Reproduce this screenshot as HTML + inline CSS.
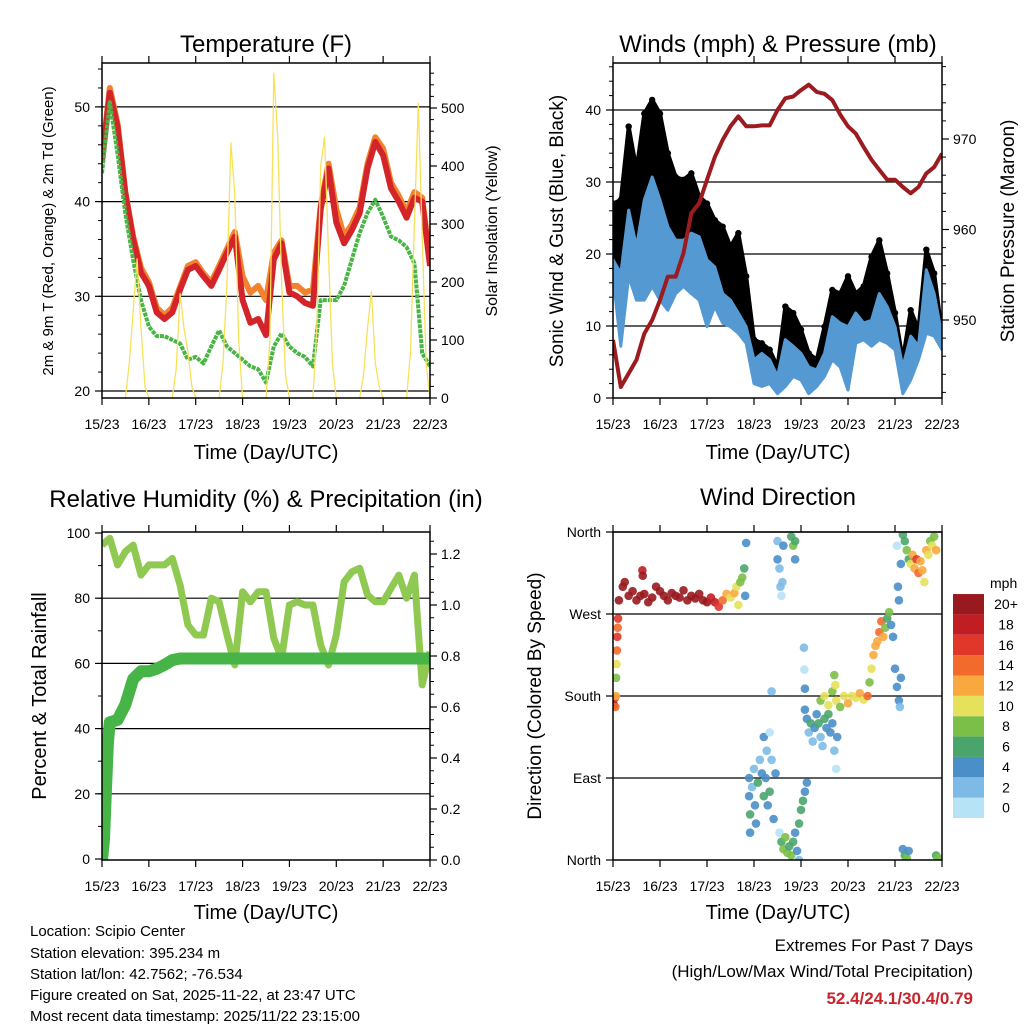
<!DOCTYPE html>
<html><head><meta charset="utf-8"><style>
html,body{margin:0;padding:0;background:#fff;}
svg{display:block;font-family:"Liberation Sans",Arial,sans-serif;}
</style></head><body>
<svg id="chart" width="1024" height="1024" viewBox="0 0 1024 1024" xmlns="http://www.w3.org/2000/svg">
<rect x="0" y="0" width="1024" height="1024" fill="#fff"/>
<text x="266" y="52" font-size="24" text-anchor="middle">Temperature (F)</text>
<text x="778" y="52" font-size="24" text-anchor="middle">Winds (mph) &amp; Pressure (mb)</text>
<text x="266" y="507" font-size="24" text-anchor="middle">Relative Humidity (%) &amp; Precipitation (in)</text>
<text x="778" y="505" font-size="24" text-anchor="middle">Wind Direction</text>
<text x="266" y="459" font-size="20" text-anchor="middle">Time (Day/UTC)</text>
<text x="778" y="459" font-size="20" text-anchor="middle">Time (Day/UTC)</text>
<text x="266" y="919" font-size="20" text-anchor="middle">Time (Day/UTC)</text>
<text x="778" y="919" font-size="20" text-anchor="middle">Time (Day/UTC)</text>
<text transform="translate(53,231) rotate(-90)" font-size="15" text-anchor="middle">2m &amp; 9m T (Red, Orange) &amp; 2m Td (Green)</text>
<text transform="translate(497,231) rotate(-90)" font-size="16" text-anchor="middle">Solar Insolation (Yellow)</text>
<text transform="translate(563,231) rotate(-90)" font-size="19" text-anchor="middle">Sonic Wind &amp; Gust (Blue, Black)</text>
<text transform="translate(1014,231) rotate(-90)" font-size="19" text-anchor="middle">Station Pressure (Maroon)</text>
<text transform="translate(46,696) rotate(-90)" font-size="20" text-anchor="middle">Percent &amp; Total Rainfall</text>
<text transform="translate(541,696) rotate(-90)" font-size="19" text-anchor="middle">Direction (Colored By Speed)</text>
<g font-size="15">
<text x="30" y="936">Location: Scipio Center</text>
<text x="30" y="958">Station elevation: 395.234 m</text>
<text x="30" y="979">Station lat/lon: 42.7562; -76.534</text>
<text x="30" y="1000">Figure created on Sat, 2025-11-22, at 23:47 UTC</text>
<text x="30" y="1021">Most recent data timestamp: 2025/11/22 23:15:00</text>
</g>
<text x="973" y="951" font-size="17" text-anchor="end">Extremes For Past 7 Days</text>
<text x="973" y="977" font-size="17" text-anchor="end">(High/Low/Max Wind/Total Precipitation)</text>
<text x="973" y="1004" font-size="17" font-weight="bold" fill="#c8242b" text-anchor="end">52.4/24.1/30.4/0.79</text>
</svg>
<script>
const dayTicks = [0,24,48,72,96,120,144,168];
const dayLabels = ["15/23","16/23","17/23","18/23","19/23","20/23","21/23","22/23"];
const hours = [0,4,8,12,16,20,24,28,32,36,40,44,48,52,56,60,64,68,72,76,80,84,88,92,96,100,104,108,112,116,120,124,128,132,136,140,144,148,152,156,160,164,168];
const tempRed = [44.4,51.5,47.9,40.8,36,32.5,31.1,28.3,27.6,28.3,30.7,32.8,33.2,32.1,31.1,32.8,34.6,36.3,29.6,27.2,27.6,25.9,33.9,35.6,30.4,30.0,29.3,29.0,39.2,43.5,37.8,35.6,37.0,38.8,43.5,46.3,44.9,41.4,40.0,38.3,40.4,40.0,33.2];
const tempOrange = [44.6,52.0,48.2,41.0,36.3,33.0,31.5,28.8,28.0,28.8,31.0,33.2,33.6,32.4,31.5,33.2,35.0,36.8,32.1,30.4,31.1,29.6,34.6,35.9,31.1,31.1,30.4,30.7,39.6,44.0,39.2,36.3,37.6,39.4,44.0,46.8,45.6,42.0,40.6,38.9,41.0,40.4,33.6];
const dewGreen = [43,50.5,45,38.7,33.8,29.6,26.8,25.8,25.8,25.4,25,23.3,23.6,22.9,24.7,26.4,24.7,24,23.3,22.6,22.3,20.9,24.7,26.1,24.7,24,23.6,22.6,29.6,29.6,29.6,31.1,33.9,36.7,38.8,40.2,38.4,36.3,35.9,35.2,33.5,24,22.6];
const solarHours = [0,12,14,16,18,20,22,24,36,38,40,42,44,46,48,60,62,64,66,68,70,72,84,86,88,90,92,94,96,108,110,112,114,116,118,120,132,134,136,138,140,142,144,156,158,160,162,164,166,168];
const solarValues = [0,0,60,150,240,120,20,0,0,50,180,120,80,20,0,0,60,200,440,350,100,0,0,100,560,450,200,40,0,0,120,400,450,250,60,0,0,40,120,183,60,20,0,0,80,300,508,280,60,0];
const gustMax = [27.0,27.5,37.7,31.7,39.5,41.4,39.5,34.0,30.7,30.3,31.2,28.0,27.0,24.7,23.8,21.0,22.9,16.9,8.1,7.6,6.7,4.3,12.7,11.8,9.5,6.2,5.3,9.9,15.0,14.5,16.9,14.5,15.5,19.6,21.9,17.3,11.8,5.3,12.2,9.5,20.6,17.3,9.0];
const windMax = [19.2,17.3,26.1,21.0,27.5,30.7,27.5,23.8,21.9,21.9,22.9,22.4,19.2,18.2,14.5,13.6,11.8,9.9,5.3,6.2,5.3,3.0,8.1,7.2,6.2,4.3,3.9,6.2,11.3,10.4,9.9,11.8,10.4,10.8,14.5,12.7,9.9,4.3,8.6,7.2,17.8,14.5,8.6];
const windMin = [16.9,7.2,16.9,13.6,13.6,15.5,13.6,12.2,14.5,15.5,14.5,13.6,9.9,12.7,10.4,9.9,9.0,7.6,2.0,1.6,2.0,0.6,1.6,3.0,2.5,0.6,1.6,3.0,5.3,4.3,1.1,7.6,8.1,7.2,8.1,7.6,6.7,0.6,2.5,5.3,9.0,8.6,6.7];
const pressure = [947.8,942.6,944.1,945.6,948.5,950.0,952.2,954.8,954.8,957.4,961.8,962.9,965.5,968.0,969.9,971.4,972.5,971.4,971.4,971.5,971.5,973.2,974.5,974.7,975.4,976.0,975.2,975.0,974.3,972.7,971.4,970.6,969.1,967.7,966.6,965.5,965.5,964.7,964.0,964.7,966.2,966.9,968.4];
const rhValues = [96.3,98.4,90.2,94.3,96.3,87.1,90.2,90.2,90.2,92.2,84,71.8,68.7,68.7,80,78.9,68.7,59.5,82,78.9,82,82,67.7,61.6,77.9,78.9,77.9,77.9,65.6,59.5,68.7,85,88.1,89.2,81,78.9,78.9,83,87.1,80,87.1,53.4,63.6];
const precipHours = [0,1,2,3,4,8,12,16,20,24,28,32,36,40,168];
const precipValues = [0,0.08,0.27,0.46,0.54,0.55,0.61,0.71,0.74,0.74,0.75,0.765,0.784,0.79,0.79];
const dirHours = [0,0.5,1,1.2,1.5,1.6,1.8,2.0,2.2,2.4,2.6,3,5,6,8,10,12,14,15,15.2,16,18,20,22,24,26,28,30,32,34,36,38,40,42,44,46,48,50,52,54,56,58,60,62,63,64,65,66,67,67.5,68,69.5,69.5,70,70,71,72,72.5,73,74,75,76,77,77,78,78.5,79,80,80,81,81,82,83,84,84,85,85.5,86,86.5,87,91,92,93,93,85,86,87,88,89,90,91,92,93,94,95,95,96,97,98,99,97.5,97.7,98,98,99,100,101,102,103,104,105,106,107,108,109,110,111,112,113,114,114.5,106,108,110,112,114,116,118,120,122,124,126,128,130,131,113,113.5,132,133,134,135,136,137,138,139,140,141,142,143,144,145,146,146.5,147,145.5,146,147,145,148,149,150,151,152,153,154,155,156,157,158,159,160,161,162,163,164,165,148,149,150,151,165,166];
const dirValues = [175,170,178,168,180,200,215,230,245,255,265,285,300,305,290,295,285,290,318,312,292,283,288,300,295,290,285,293,290,288,296,285,290,287,292,285,283,288,283,278,285,292,288,293,300,280,305,310,320,290,348,90,70,50,30,80,100,60,40,85,110,95,70,135,90,120,60,75,140,110,185,45,95,350,330,320,300,290,305,345,355,345,350,330,30,20,12,25,8,15,5,20,30,10,0,40,55,65,75,85,233,209,188,165,155,140,150,130,145,160,150,135,125,155,145,160,140,150,120,100,135,175,180,170,185,175,168,180,172,180,178,183,176,180,195,203,192,210,225,235,240,250,262,245,255,265,272,258,245,210,190,175,168,200,300,285,325,345,357,350,340,330,325,335,320,330,315,328,318,305,340,335,350,345,355,340,12,5,2,10,5,2];
const dirSpeeds = [18,20,16,14,12,8,10,14,16,14,16,20,20,20,20,20,20,20,18,20,20,20,20,20,20,20,20,20,20,20,20,20,20,20,20,20,20,18,18,16,14,12,10,12,10,11,8,8,6,4,4,4,4,6,4,2,2,4,4,6,2,4,6,4,4,2,4,6,1,2,2,4,4,2,4,2,2,1,2,4,6,8,6,4,0,6,8,8,8,6,8,6,4,4,2,6,6,6,4,4,2,0,4,4,4,2,6,2,4,4,6,2,2,6,4,6,4,4,2,1,4,8,10,10,8,10,8,10,12,10,10,12,10,14,8,8,10,10,12,12,12,14,14,12,8,6,8,4,4,4,4,4,2,4,4,4,4,1,6,6,8,6,10,12,12,16,14,12,12,10,12,10,8,10,8,12,4,6,8,4,6,8];
const speedColors = ["#b7e3f7","#7dbbe6","#4a8fc8","#4aa56d","#7cbf48","#e6e15a","#f9a83f","#f26a2c","#e1372b","#c11e24","#981a1e"];
const speedLabels = ["0","2","4","6","8","10","12","14","16","18","20+"];

const NS = "http://www.w3.org/2000/svg";
const svg = document.getElementById("chart");
function mk(parent, tag, attrs, name, inter) {
  const el = document.createElementNS(NS, tag);
  for (const k in attrs) el.setAttribute(k, attrs[k]);
  
  
  parent.appendChild(el);
  return el;
}
const P1 = {x0:102,x1:430,y0:63,y1:398,id:"temp"};
const P2 = {x0:613,x1:942,y0:63,y1:398,id:"wind"};
const P3 = {x0:102,x1:430,y0:532,y1:860,id:"rh"};
const P4 = {x0:613,x1:942,y0:532,y1:860,id:"dir"};
function X(p,h){return p.x0 + h/168*(p.x1-p.x0);}
const yTemp = v => 391 - (v-20)*9.47;
const ySolar = v => 398 - v*0.58;
const yWind = v => 398 - v*7.2;
const yPres = v => 139 - (v-970)*9.05;
const yRH = v => 859 - v*3.26;
const yPrecip = v => 860 - v*255;
const yDir = v => 860 - v*328/360;

const defs = mk(svg,'defs',{},'clip-defs',false);
[P1,P2,P3,P4].forEach(p=>{
  const cp = mk(defs,'clipPath',{id:'clip-'+p.id},'clip-'+p.id,false);
  mk(cp,'rect',{x:p.x0,y:p.y0,width:p.x1-p.x0,height:p.y1-p.y0},'clip-rect',false);
});

function frame(p){
  const g = mk(svg,'g',{},p.id+'-axes',false);
  dayTicks.forEach((h,i)=>{
    const x = X(p,h);
    mk(g,'line',{x1:x,x2:x,y1:p.y1,y2:p.y1+7,stroke:'#000','stroke-width':1.2},'x-tick',false);
    mk(g,'line',{x1:x,x2:x,y1:p.y0,y2:p.y0-7,stroke:'#000','stroke-width':1.2},'x-tick-top',false);
    const t = mk(g,'text',{x:x,y:p.y1+31,'font-size':14,'text-anchor':'middle'},'x-tick-label',false);
    t.textContent = dayLabels[i];
  });
  return g;
}
function leftTicks(p,vals,labels,yf,minor){
  const g = mk(svg,'g',{},p.id+'-left-axis',false);
  minor.forEach(v=>{const y=yf(v); if(y>=p.y0-0.5&&y<=p.y1+0.5) mk(g,'line',{x1:p.x0-4,x2:p.x0,y1:y,y2:y,stroke:'#000','stroke-width':1},'minor-tick',false);});
  vals.forEach((v,i)=>{
    const y = yf(v);
    mk(g,'line',{x1:p.x0-7,x2:p.x0,y1:y,y2:y,stroke:'#000','stroke-width':1.2},'y-tick',false);
    const t = mk(g,'text',{x:p.x0-12,y:y+5,'font-size':14,'text-anchor':'end'},'y-tick-label',false);
    t.textContent = labels[i];
  });
}
function rightTicks(p,vals,labels,yf,minor){
  const g = mk(svg,'g',{},p.id+'-right-axis',false);
  minor.forEach(v=>{const y=yf(v); if(y>=p.y0-0.5&&y<=p.y1+0.5) mk(g,'line',{x1:p.x1,x2:p.x1+4,y1:y,y2:y,stroke:'#000','stroke-width':1},'minor-tick',false);});
  vals.forEach((v,i)=>{
    const y = yf(v);
    mk(g,'line',{x1:p.x1,x2:p.x1+7,y1:y,y2:y,stroke:'#000','stroke-width':1.2},'y2-tick',false);
    const t = mk(g,'text',{x:p.x1+11,y:y+5,'font-size':14},'y2-tick-label',false);
    t.textContent = labels[i];
  });
}
function grid(p,vals,yf){
  const g = mk(svg,'g',{},p.id+'-gridlines',false);
  vals.forEach(v=>{const y=yf(v); mk(g,'line',{x1:p.x0,x2:p.x1,y1:y,y2:y,stroke:'#000','stroke-width':1.2},'gridline',false);});
}
function border(p){
  mk(svg,'rect',{x:p.x0,y:p.y0,width:p.x1-p.x0,height:p.y1-p.y0,fill:'none',stroke:'#000','stroke-width':1.5},p.id+'-plot-border',false);
}
function pts(p,hs,vs,yf){return hs.map((h,i)=>X(p,h).toFixed(1)+','+yf(vs[i]).toFixed(1)).join(' ');}
function range(a,b,s){const r=[];for(let v=a;v<=b+1e-9;v+=s)r.push(+v.toFixed(3));return r;}

// ---------- Panel 1: temperature ----------
frame(P1);
grid(P1,[20,30,40,50],yTemp);
leftTicks(P1,[20,30,40,50],["20","30","40","50"],yTemp,range(18,56,2));
rightTicks(P1,[0,100,200,300,400,500],["0","100","200","300","400","500"],ySolar,range(0,580,20));
{
  const g = mk(svg,'g',{'clip-path':'url(#clip-temp)'},'temperature-series',false);
  mk(g,'polyline',{points:pts(P1,hours,tempOrange,yTemp),fill:'none',stroke:'#f3822f','stroke-width':6,'stroke-linejoin':'round'},'t9m-orange-line',false);
  mk(g,'polyline',{points:pts(P1,hours,tempRed,yTemp),fill:'none',stroke:'#d3242a','stroke-width':6,'stroke-linejoin':'round'},'t2m-red-line',false);
  mk(g,'polyline',{points:pts(P1,hours,dewGreen,yTemp),fill:'none',stroke:'#4bb446','stroke-width':4,'stroke-dasharray':'4 1','stroke-linejoin':'round'},'dewpoint-green-line',false);
  mk(g,'polyline',{points:pts(P1,solarHours,solarValues,ySolar),fill:'none',stroke:'#f8e15a','stroke-width':1.3,'stroke-linejoin':'round'},'solar-yellow-line',false);
}
border(P1);

// ---------- Panel 2: winds & pressure ----------
frame(P2);
grid(P2,[10,20,30,40],yWind);
leftTicks(P2,[0,10,20,30,40],["0","10","20","30","40"],yWind,range(0,46,2));
rightTicks(P2,[950,960,970],["950","960","970"],yPres,range(942,978,2));
{
  const g = mk(svg,'g',{'clip-path':'url(#clip-wind)'},'wind-series',false);
  const top = hours.map((h,i)=>X(P2,h).toFixed(1)+','+yWind(gustMax[i]).toFixed(1));
  const mid = hours.map((h,i)=>X(P2,h).toFixed(1)+','+yWind(windMax[i]).toFixed(1)).reverse();
  mk(g,'polygon',{points:top.concat(mid).join(' '),fill:'#000',stroke:'#000','stroke-width':4,'stroke-linejoin':'round'},'gust-black-band',false);
  hours.forEach((h,i)=>{
    const c = mk(g,'circle',{cx:X(P2,h),cy:yWind(gustMax[i]),r:3.2,fill:'#000'},'gust-point',false);
  });
  const wt = hours.map((h,i)=>X(P2,h).toFixed(1)+','+yWind(windMax[i]).toFixed(1));
  const wb = hours.map((h,i)=>X(P2,h).toFixed(1)+','+yWind(windMin[i]).toFixed(1)).reverse();
  mk(g,'polygon',{points:wt.concat(wb).join(' '),fill:'#5599d2',stroke:'#5599d2','stroke-width':3,'stroke-linejoin':'round'},'wind-blue-band',false);
  mk(g,'polyline',{points:pts(P2,hours,pressure,yPres),fill:'none',stroke:'#9b1b1f','stroke-width':4,'stroke-linejoin':'round'},'pressure-maroon-line',false);
}
border(P2);

// ---------- Panel 3: RH & precip ----------
frame(P3);
grid(P3,[20,40,60,80],yRH);
leftTicks(P3,[0,20,40,60,80,100],["0","20","40","60","80","100"],yRH,range(0,100,10));
rightTicks(P3,[0,0.2,0.4,0.6,0.8,1.0,1.2],["0.0","0.2","0.4","0.6","0.8","1.0","1.2"],yPrecip,range(0,1.28,0.05));
{
  const g = mk(svg,'g',{'clip-path':'url(#clip-rh)'},'humidity-series',false);
  mk(g,'polyline',{points:pts(P3,hours,rhValues,yRH),fill:'none',stroke:'#8fc952','stroke-width':7,'stroke-linejoin':'round'},'rh-line',false);
  mk(g,'polyline',{points:pts(P3,precipHours,precipValues,yPrecip),fill:'none',stroke:'#46b446','stroke-width':12,'stroke-linejoin':'round','stroke-linecap':'round'},'precip-line',false);
}
border(P3);

// ---------- Panel 4: wind direction ----------
frame(P4);
grid(P4,[90,180,270,360],yDir);
leftTicks(P4,[0,90,180,270,360],["North","East","South","West","North"],yDir,[]);
{
  const g = mk(svg,'g',{'clip-path':'url(#clip-dir)'},'direction-series',false);
  dirHours.forEach((h,i)=>{
    const idx = Math.min(10, Math.floor(dirSpeeds[i]/2));
    const c = mk(g,'circle',{cx:X(P4,h),cy:yDir(dirValues[i]),r:4.3,fill:speedColors[idx],'fill-opacity':0.9},'direction-point',false);
  });
}
border(P4);
{
  const g = mk(svg,'g',{},'speed-colorbar',false);
  const t = mk(g,'text',{x:990,y:588,'font-size':14},'colorbar-title',false);
  t.textContent = 'mph';
  speedColors.forEach((c,i)=>{
    const y = 818 - (i+1)*20.36;
    mk(g,'rect',{x:953,y:y,width:31,height:20.36,fill:c},'colorbar-box',false);
    const l = mk(g,'text',{x:1006,y:y+15,'font-size':14,'text-anchor':'middle'},'colorbar-label',false);
    l.textContent = speedLabels[i];
  });
}
</script>
</body></html>
